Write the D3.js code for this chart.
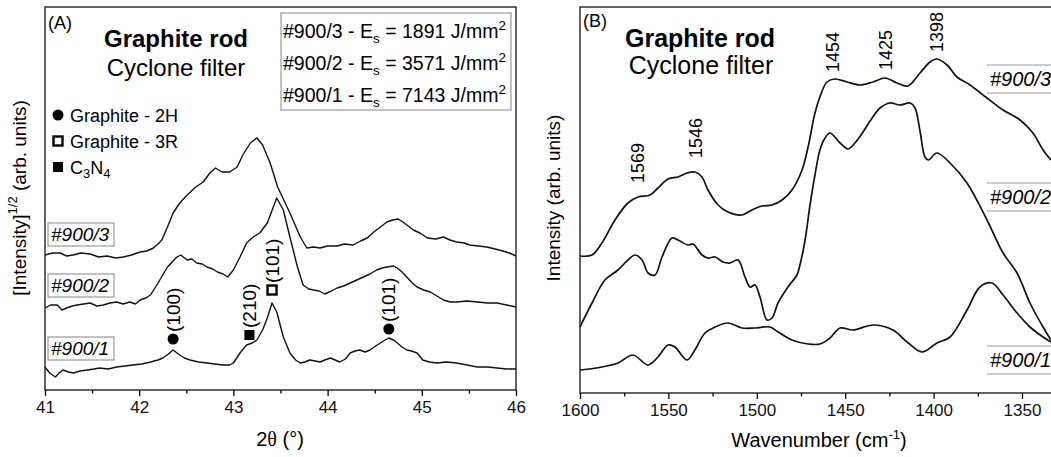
<!DOCTYPE html>
<html><head><meta charset="utf-8">
<script src="https://cdn.jsdelivr.net/npm/d3@7"></script>
<style>
body{margin:0;background:#fff;}
svg{display:block;font-family:"Liberation Sans",Arial,sans-serif;}
</style></head><body>
<svg id="c" width="1051" height="457"></svg>
<script>
// ---------- Panel A data (2θ in degrees, sqrt intensity arb. units) ----------
const xrd900_3 = [[41.00,135],[41.08,137],[41.16,137],[41.23,134],[41.30,135],[41.38,137],[41.48,136],[41.57,133],[41.66,134],[41.75,132],[41.83,133],[41.92,135],[42.01,138],[42.08,139],[42.15,142],[42.20,146],[42.24,150],[42.30,163],[42.36,177],[42.43,187],[42.51,195],[42.60,203],[42.68,208],[42.75,217],[42.81,222],[42.88,218],[42.96,218],[43.04,223],[43.10,235],[43.18,247],[43.25,252],[43.31,245],[43.39,227],[43.47,203],[43.60,177],[43.71,153],[43.78,142],[43.85,143],[43.92,142],[44.00,144],[44.10,144],[44.18,146],[44.27,145],[44.35,149],[44.42,152],[44.49,158],[44.56,163],[44.63,168],[44.69,170],[44.75,171],[44.80,168],[44.91,160],[44.98,157],[45.06,152],[45.15,151],[45.23,153],[45.30,150],[45.37,148],[45.45,147],[45.51,145],[45.60,144],[45.69,143],[45.78,141],[45.86,139],[45.93,137],[46.00,134]];
const xrd900_2 = [[41.00,82],[41.06,85],[41.13,85],[41.18,80],[41.23,82],[41.29,84],[41.34,85],[41.41,86],[41.48,87],[41.55,84],[41.62,85],[41.69,87],[41.76,88],[41.83,86],[41.90,88],[41.96,86],[42.01,90],[42.07,92],[42.12,95],[42.20,107],[42.30,123],[42.40,133],[42.44,135],[42.51,130],[42.56,131],[42.61,127],[42.67,126],[42.72,123],[42.78,121],[42.83,118],[42.89,116],[42.94,113],[43.00,120],[43.07,133],[43.14,147],[43.21,153],[43.28,157],[43.36,167],[43.42,182],[43.46,192],[43.53,180],[43.60,153],[43.68,123],[43.74,105],[43.80,101],[43.85,100],[43.91,99],[43.97,96],[44.04,99],[44.10,102],[44.17,104],[44.24,107],[44.31,110],[44.38,113],[44.45,116],[44.52,120],[44.58,122],[44.63,123],[44.70,124],[44.74,122],[44.79,118],[44.84,113],[44.90,107],[44.95,103],[45.02,100],[45.09,98],[45.16,94],[45.23,90],[45.30,88],[45.37,88],[45.48,89],[45.59,88],[45.70,87],[45.80,87],[45.90,85],[46.00,83]];
const xrd900_1 = [[41.00,23],[41.05,17],[41.11,13],[41.15,17],[41.19,20],[41.25,18],[41.30,17],[41.37,19],[41.45,20],[41.52,21],[41.58,22],[41.67,21],[41.76,23],[41.85,24],[41.93,25],[42.03,26],[42.12,28],[42.20,30],[42.25,32],[42.31,36],[42.36,40],[42.43,35],[42.48,32],[42.54,30],[42.63,28],[42.72,27],[42.80,26],[42.89,25],[42.96,25],[43.00,27],[43.07,37],[43.14,45],[43.20,47],[43.25,50],[43.31,60],[43.36,72],[43.41,87],[43.46,78],[43.53,53],[43.60,37],[43.66,30],[43.71,27],[43.76,28],[43.81,30],[43.87,29],[43.92,28],[43.97,30],[44.03,32],[44.08,30],[44.13,28],[44.19,31],[44.24,37],[44.29,39],[44.34,40],[44.40,38],[44.45,40],[44.51,44],[44.56,47],[44.61,50],[44.65,52],[44.70,50],[44.74,47],[44.79,43],[44.84,40],[44.89,39],[44.95,37],[45.01,30],[45.08,28],[45.16,27],[45.26,28],[45.37,27],[45.48,25],[45.59,23],[45.70,23],[45.80,22],[45.90,21],[46.00,21]];
const xrdSeriesNames = ["#900/3","#900/2","#900/1"];
const xrdTicks = [41,42,43,44,45,46];
const xrdMinorTicks = [41.5,42.5,43.5,44.5,45.5];
// reflections: [2θ, level, symbol, label]
const xrdPeaks = [[42.36,51,"dot","(100)"],[43.17,55,"fsq","(210)"],[43.41,100,"osq","(101)"],[44.65,61,"dot","(101)"]];
const xrdLegend = [["dot","Graphite - 2H"],["osq","Graphite - 3R"],["fsq","C3N4"]];
const xrdEnergy = [["#900/3","1891"],["#900/2","3571"],["#900/1","7143"]];

// ---------- Panel B data (wavenumber cm-1, intensity arb. units) ----------
const raman900_3 = [[1600,137],[1593.2,138],[1587.6,150],[1580.2,173],[1572.9,190],[1567.2,196],[1560.4,198],[1555.9,205],[1550.2,214],[1544.6,216],[1539.5,220],[1535.0,221],[1531.0,216],[1527.6,203],[1521.9,188],[1516.3,181],[1508.4,178],[1502.7,183],[1497.1,187],[1491.4,188],[1485.7,193],[1480.1,203],[1474.4,223],[1471.0,246],[1467.1,280],[1464.3,296],[1460.3,311],[1455.8,314],[1449.0,311],[1441.6,308],[1434.3,311],[1427.5,315],[1420.7,310],[1414.5,307],[1407.7,320],[1402.0,331],[1398.1,334],[1392.4,328],[1386.8,316],[1379.4,308],[1369.8,295],[1360.7,283],[1351.1,273],[1343.8,260],[1338.1,243],[1333.6,233]];
const raman900_2 = [[1600,66],[1593.2,90],[1585.9,113],[1578.5,123],[1572.9,133],[1568.9,138],[1564.9,133],[1561.5,120],[1557.6,118],[1553.6,136],[1548.0,155],[1544.6,153],[1538.9,148],[1536.1,149],[1531.0,138],[1527.6,135],[1523.6,136],[1519.1,131],[1515.2,130],[1510.6,133],[1506.7,116],[1503.8,106],[1501.0,108],[1498.2,96],[1494.2,73],[1491.4,75],[1488.0,90],[1482.4,106],[1477.3,118],[1475.6,128],[1472.7,153],[1469.9,188],[1467.1,218],[1464.3,243],[1461.4,255],[1458.6,260],[1452.9,250],[1448.4,244],[1444.5,250],[1439.9,261],[1435.9,272],[1430.3,285],[1424.7,290],[1419.0,288],[1413.3,290],[1410.5,285],[1407.7,262],[1404.9,236],[1403.0,233],[1398.1,240],[1390.7,230],[1381.1,210],[1369.8,173],[1360.7,140],[1352.8,120],[1345.5,90],[1338.1,66],[1333.6,53]];
const raman900_1 = [[1600,23],[1587.6,26],[1578.5,30],[1570.0,38],[1561.5,28],[1555.9,36],[1550.2,48],[1546.3,46],[1539.5,33],[1535.0,43],[1529.3,60],[1523.6,66],[1516.3,70],[1508.4,65],[1501.0,65],[1492.5,66],[1488.0,61],[1480.1,53],[1471.0,49],[1464.3,49],[1458.6,55],[1452.9,65],[1445.6,63],[1434.3,68],[1423.0,63],[1415.0,51],[1406.6,41],[1398.1,50],[1390.7,56],[1381.1,83],[1373.8,106],[1367.0,110],[1360.7,98],[1352.8,80],[1345.5,66],[1338.1,56],[1333.6,51]];
const ramanSeriesNames = ["#900/3","#900/2","#900/1"];
const ramanTicks = [1600,1550,1500,1450,1400,1350];
const ramanMinorTicks = [1575,1525,1475,1425,1375,1325];
// band labels: [label, position, level]
const ramanBands = [["1569",1567.2,210],["1546",1534.5,235],["1454",1456.9,321],["1425",1426.9,323],["1398",1398.1,341]];

const svg = d3.select("#c");
const FONT = "'Liberation Sans',Arial,sans-serif";

function styleAxis(g, fs){
  g.select(".domain").remove();
  g.selectAll(".tick line").attr("stroke","#000").attr("stroke-width",1.3);
  g.selectAll(".tick text").attr("font-size",fs).attr("fill","#111").attr("font-family",FONT);
}
function symbol(g, kind, x, y){
  if(kind==="dot") g.append("circle").attr("cx",x).attr("cy",y).attr("r",5.5).attr("fill","#000");
  else if(kind==="fsq") g.append("rect").attr("x",x-5).attr("y",y-5).attr("width",10).attr("height",10).attr("fill","#000");
  else g.append("rect").attr("x",x-4.5).attr("y",y-4.5).attr("width",9).attr("height",9).attr("fill","none").attr("stroke","#000").attr("stroke-width",2.4);
}

// ================= Panel A =================
const A = {l:45,r:516,t:7,b:390};
const xA = d3.scaleLinear().domain([41,46]).range([A.l,A.r]);
const yA = d3.scaleLinear().domain([0,383]).range([A.b,A.t]);
const gA = svg.append("g");
const lineA = d3.line().x(d=>xA(d[0])).y(d=>yA(d[1]));
[xrd900_3,xrd900_2,xrd900_1].forEach(s=>{
  gA.append("path").attr("d",lineA(s)).attr("fill","none").attr("stroke","#111").attr("stroke-width",1.4).attr("stroke-linejoin","round");
});
gA.append("rect").attr("x",A.l).attr("y",A.t).attr("width",A.r-A.l).attr("height",A.b-A.t).attr("fill","none").attr("stroke","#222").attr("stroke-width",1.4);
const axA = gA.append("g").attr("transform",`translate(0,${A.b})`).call(d3.axisBottom(xA).tickValues(xrdTicks).tickSize(6).tickPadding(5).tickFormat(d3.format("d")));
styleAxis(axA,17);
const axAm = gA.append("g").attr("transform",`translate(0,${A.b})`).call(d3.axisBottom(xA).tickValues(xrdMinorTicks).tickSize(3.5).tickFormat(""));
styleAxis(axAm,17);

gA.append("text").attr("x",48).attr("y",29).attr("font-size",18).text("(A)");
gA.append("text").attr("x",176).attr("y",47).attr("text-anchor","middle").attr("font-size",24).attr("font-weight","bold").text("Graphite rod");
gA.append("text").attr("x",176).attr("y",76).attr("text-anchor","middle").attr("font-size",24).text("Cyclone filter");

// energy legend
gA.append("rect").attr("x",281).attr("y",13).attr("width",230).attr("height",97).attr("fill","#fff").attr("stroke","#999").attr("stroke-width",1.2);
xrdEnergy.forEach((e,i)=>{
  const t = gA.append("text").attr("x",283).attr("y",38+i*32).attr("font-size",19.5);
  t.append("tspan").text(e[0]+" - E");
  t.append("tspan").attr("font-size",13.5).attr("dy",5).text("s");
  t.append("tspan").attr("dy",-5).text(" = "+e[1]+" J/mm");
  t.append("tspan").attr("font-size",13.5).attr("dy",-8).text("2");
});

// phase legend
xrdLegend.forEach((e,i)=>{
  const y = 115+i*26;
  symbol(gA,e[0],58,y);
  const t = gA.append("text").attr("x",70).attr("y",y+6.5).attr("font-size",18);
  if(e[1]==="C3N4"){
    t.append("tspan").text("C");
    t.append("tspan").attr("font-size",13).attr("dy",4).text("3");
    t.append("tspan").attr("dy",-4).text("N");
    t.append("tspan").attr("font-size",13).attr("dy",4).text("4");
  } else t.text(e[1]);
});

// series labels A
xrdSeriesNames.forEach((n,i)=>{
  const yb = [246,297,360][i];
  gA.append("rect").attr("x",48).attr("y",yb-23).attr("width",66).attr("height",23).attr("fill","#fff").attr("stroke","#999").attr("stroke-width",1.2);
  gA.append("text").attr("x",51).attr("y",yb-5).attr("font-size",19).attr("font-style","italic").text(n);
});

// reflections
xrdPeaks.forEach(p=>{
  const x = xA(p[0]), y = yA(p[1]);
  symbol(gA,p[2],x,y);
  gA.append("text").attr("transform",`translate(${x},${y-7}) rotate(-90)`).attr("dominant-baseline","central").attr("font-size",19).text(p[3]);
});

// axis titles A
gA.append("text").attr("transform","translate(19,198) rotate(-90)").attr("text-anchor","middle").attr("dominant-baseline","central").attr("font-size",19)
  .call(t=>{t.append("tspan").text("[Intensity]");t.append("tspan").attr("font-size",13).attr("dy",-7).text("1/2");t.append("tspan").attr("dy",7).text(" (arb. units)");});
gA.append("text").attr("x",280).attr("y",446).attr("text-anchor","middle").attr("font-size",20)
  .call(t=>{t.append("tspan").text("2");t.append("tspan").attr("font-family","'Liberation Serif',serif").text("θ");t.append("tspan").text(" (°)");});

// ================= Panel B =================
const B = {l:580,t:7,b:393};
const xB = d3.scaleLinear().domain([1600,1300]).range([B.l,B.l+300*1.768]);
const yB = d3.scaleLinear().domain([0,386]).range([B.b,B.t]);
const gB = svg.append("g");
const lineB = d3.line().x(d=>xB(d[0])).y(d=>yB(d[1])).curve(d3.curveCatmullRom.alpha(0.5));
[raman900_3,raman900_2,raman900_1].forEach(s=>{
  gB.append("path").attr("d",lineB(s)).attr("fill","none").attr("stroke","#111").attr("stroke-width",1.7);
});
gB.append("rect").attr("x",B.l).attr("y",B.t).attr("width",600).attr("height",B.b-B.t).attr("fill","none").attr("stroke","#222").attr("stroke-width",1.4);
const axB = gB.append("g").attr("transform",`translate(0,${B.b})`).call(d3.axisBottom(xB).tickValues(ramanTicks).tickSize(6).tickPadding(5).tickFormat(d3.format("d")));
styleAxis(axB,17);
const axBm = gB.append("g").attr("transform",`translate(0,${B.b})`).call(d3.axisBottom(xB).tickValues(ramanMinorTicks).tickSize(3.5).tickFormat(""));
styleAxis(axBm,17);

gB.append("text").attr("x",583).attr("y",27).attr("font-size",18).text("(B)");
gB.append("text").attr("x",700).attr("y",47).attr("text-anchor","middle").attr("font-size",25).attr("font-weight","bold").text("Graphite rod");
gB.append("text").attr("x",701).attr("y",74).attr("text-anchor","middle").attr("font-size",25).text("Cyclone filter");

ramanBands.forEach(b=>{
  gB.append("text").attr("transform",`translate(${xB(b[1])},${yB(b[2])}) rotate(-90)`).attr("dominant-baseline","central").attr("font-size",18).text(b[0]);
});

// series labels B
ramanSeriesNames.forEach((n,i)=>{
  const top = [65,183,346][i];
  gB.append("line").attr("x1",987).attr("x2",1060).attr("y1",top).attr("y2",top).attr("stroke","#999").attr("stroke-width",1.2);
  gB.append("line").attr("x1",987).attr("x2",1060).attr("y1",top+28).attr("y2",top+28).attr("stroke","#999").attr("stroke-width",1.2);
  gB.append("text").attr("x",990).attr("y",top+21).attr("font-size",20).attr("font-style","italic").text(n);
});

gB.append("text").attr("transform","translate(553,198) rotate(-90)").attr("text-anchor","middle").attr("dominant-baseline","central").attr("font-size",19).text("Intensity (arb. units)");
gB.append("text").attr("x",819).attr("y",447).attr("text-anchor","middle").attr("font-size",20)
  .call(t=>{t.append("tspan").text("Wavenumber (cm");t.append("tspan").attr("font-size",13).attr("dy",-8).text("-1");t.append("tspan").attr("dy",8).text(")");});
</script>
</body></html>
